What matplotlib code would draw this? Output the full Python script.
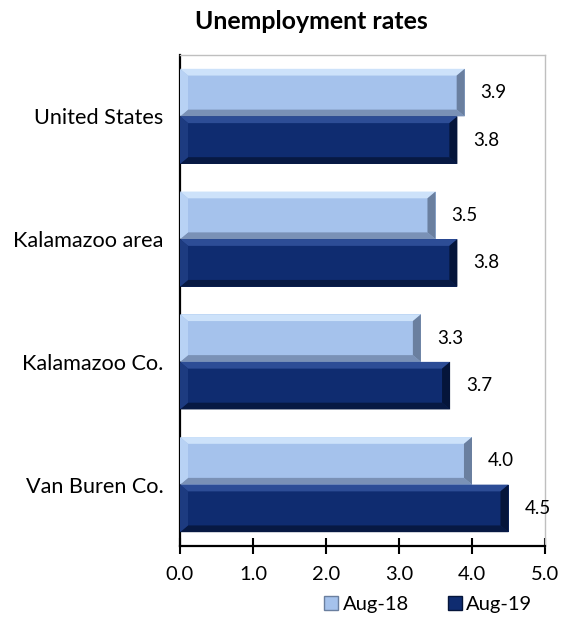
import matplotlib
matplotlib.use("Agg")
import matplotlib.pyplot as plt
from matplotlib.patches import Polygon, Rectangle
from matplotlib.lines import Line2D
import numpy as np

categories = ["United States", "Kalamazoo area", "Kalamazoo Co.", "Van Buren Co."]
series_names = ["Aug-18", "Aug-19"]
aug18 = [3.9, 3.5, 3.3, 4.0]
aug19 = [3.8, 3.8, 3.7, 4.5]
xticks = [0.0, 1.0, 2.0, 3.0, 4.0, 5.0]
xticklabels = ["0.0", "1.0", "2.0", "3.0", "4.0", "5.0"]

FONT = ['Lato', 'DejaVu Sans']
plt.rcParams['font.family'] = FONT

W, H = 563, 620
fig = plt.figure(figsize=(W/100, H/100), dpi=100)
renderer = fig.canvas.get_renderer()

def fit_size(s, target_px, weight='normal'):
    t = fig.text(0, 0, s, fontsize=12, fontweight=weight)
    w = t.get_window_extent(renderer).width
    t.remove()
    return 12 * target_px / w

title_fs = fit_size("Unemployment rates", 233, 'bold')
cat_fs = fit_size("United States", 128)
tick_fs = fit_size("3.0", 28)
val_fs = fit_size("3.9", 26)
leg_fs = fit_size("Aug-19", 66)

ax = fig.add_axes([180/W, 1-546/H, 365/W, 491/H])

light = {"base": "#A5C2EC", "top": "#CDE2FA", "bot": "#7A91B6", "right": "#6A7F9F", "left": "#B8D2F4"}
dark = {"base": "#0F2C70", "top": "#2D4D96", "bot": "#071943", "right": "#05153A", "left": "#1D3B80"}

n = len(categories)
ypos = np.arange(n)[::-1]
h = 0.3875

def bevel_bar(ax, y, w, col):
    y0, y1 = y - h/2, y + h/2
    bx = 0.11
    by = 0.055
    ax.add_patch(Rectangle((0, y0), w, h, facecolor=col["base"], edgecolor='none', zorder=2))
    ax.add_patch(Polygon([(0, y1), (w, y1), (w - bx, y1 - by), (bx, y1 - by)],
                         closed=True, facecolor=col["top"], edgecolor='none', zorder=3))
    ax.add_patch(Polygon([(0, y0), (w, y0), (w - bx, y0 + by), (bx, y0 + by)],
                         closed=True, facecolor=col["bot"], edgecolor='none', zorder=3))
    ax.add_patch(Polygon([(w, y0), (w, y1), (w - bx, y1 - by), (w - bx, y0 + by)],
                         closed=True, facecolor=col["right"], edgecolor='none', zorder=3))
    ax.add_patch(Polygon([(0, y0), (0, y1), (bx, y1 - by), (bx, y0 + by)],
                         closed=True, facecolor=col["left"], edgecolor='none', zorder=3))

for i in range(n):
    y = ypos[i]
    bevel_bar(ax, y + h/2, aug18[i], light)
    bevel_bar(ax, y - h/2, aug19[i], dark)
    ax.annotate(f"{aug18[i]:.1f}", (aug18[i], y + h/2), xytext=(11.5, 0), textcoords='offset points',
                va='center', ha='left', fontsize=val_fs, color='black')
    ax.annotate(f"{aug19[i]:.1f}", (aug19[i], y - h/2), xytext=(11.5, 0), textcoords='offset points',
                va='center', ha='left', fontsize=val_fs, color='black')

ax.set_xlim(0, 5.0)
ax.set_ylim(-0.5, n - 0.5)
ax.set_yticks(ypos)
ax.set_yticklabels(categories, fontsize=cat_fs)
ax.tick_params(axis='y', length=0, pad=12)
ax.set_xticks(xticks)
ax.set_xticklabels(xticklabels, fontsize=tick_fs)
ax.tick_params(axis='x', direction='inout', length=11, width=1.5, pad=9)

for s in ['left', 'bottom']:
    ax.spines[s].set_color('black')
    ax.spines[s].set_linewidth(1.6)
for s in ['top', 'right']:
    ax.spines[s].set_color('#BFBFBF')
    ax.spines[s].set_linewidth(1.0)

fig.text(311/W, 1-29/H, "Unemployment rates", ha='center', va='baseline',
         fontsize=title_fs, fontweight='bold')

fpx = leg_fs * 100 / 72
handles = [Line2D([], [], marker='s', linestyle='none', markersize=10.5, markerfacecolor=light["base"],
                  markeredgecolor=light["right"], markeredgewidth=1.0),
           Line2D([], [], marker='s', linestyle='none', markersize=10.5, markerfacecolor=dark["base"],
                  markeredgecolor=dark["right"], markeredgewidth=1.0)]
fig.legend(handles, series_names, loc='center', bbox_to_anchor=(428/W, 1-604/H), ncol=2,
           frameon=False, fontsize=leg_fs, handletextpad=4/fpx, columnspacing=38/fpx,
           handlelength=15/fpx, borderpad=0.1)

fig.savefig("out.png", dpi=100, facecolor='white')
